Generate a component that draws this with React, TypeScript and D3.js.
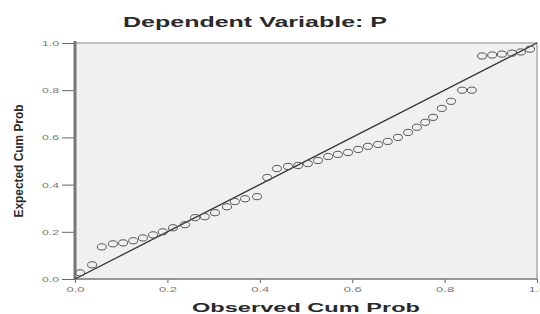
import { useEffect, useRef } from 'react';
import * as d3 from 'd3';

// observed cumulative probability (x)
const observed = [
  0.011, 0.037, 0.058, 0.082, 0.104, 0.126, 0.147, 0.169, 0.19, 0.212,
  0.238, 0.26, 0.281, 0.303, 0.329, 0.346, 0.368, 0.394, 0.416, 0.437,
  0.461, 0.483, 0.504, 0.526, 0.548, 0.569, 0.591, 0.613, 0.634, 0.656,
  0.677, 0.699, 0.721, 0.74, 0.758, 0.775, 0.794, 0.814, 0.838, 0.859,
  0.881, 0.903, 0.924, 0.946, 0.965, 0.985,
];

// expected cumulative probability (y)
const expected = [
  0.026, 0.06, 0.136, 0.149, 0.153, 0.162, 0.174, 0.187, 0.2, 0.217,
  0.23, 0.26, 0.264, 0.281, 0.306, 0.328, 0.34, 0.349, 0.43, 0.468,
  0.477, 0.481, 0.489, 0.502, 0.519, 0.528, 0.536, 0.549, 0.562, 0.57,
  0.583, 0.6, 0.621, 0.643, 0.664, 0.685, 0.723, 0.753, 0.8, 0.8,
  0.945, 0.949, 0.953, 0.957, 0.962, 0.974,
];

const tickValues = [0, 0.2, 0.4, 0.6, 0.8, 1.0];

const FONT = 'Arial, "Liberation Sans", sans-serif';

export default function App() {
  const svgRef = useRef<SVGSVGElement>(null);

  useEffect(() => {
    if (!svgRef.current) return;
    const svg = d3.select(svgRef.current);
    svg.selectAll('*').remove();

    const width = 540;
    const height = 314;
    const margin = { top: 43, right: 3, bottom: 35, left: 75 };
    const innerWidth = width - margin.left - margin.right;
    const innerHeight = height - margin.top - margin.bottom;

    const x = d3.scaleLinear().domain([0, 1]).range([0, innerWidth]);
    const y = d3.scaleLinear().domain([0, 1]).range([innerHeight, 0]);

    svg.append('rect').attr('width', width).attr('height', height).attr('fill', '#fff');

    // Title (the picture is stretched sideways, so the text is too)
    svg
      .append('text')
      .attr('x', 255)
      .attr('y', 27)
      .attr('text-anchor', 'middle')
      .attr('textLength', 264)
      .attr('lengthAdjust', 'spacingAndGlyphs')
      .style('font-family', FONT)
      .style('font-weight', 'bold')
      .style('font-size', '14px')
      .attr('fill', '#2a2a2a')
      .text('Dependent Variable: P');

    const g = svg.append('g').attr('transform', `translate(${margin.left},${margin.top})`);

    // Plot background + frame
    g.append('rect')
      .attr('width', innerWidth)
      .attr('height', innerHeight)
      .attr('fill', '#f0f0f0')
      .attr('stroke', '#aaa')
      .attr('stroke-width', 1.5);

    // Y axis
    const yAxis = g
      .append('g')
      .call(d3.axisLeft(y).tickValues(tickValues).tickFormat(d3.format('.1f')).tickSize(13).tickPadding(3));
    yAxis.select('.domain').remove();
    yAxis.selectAll('line').attr('stroke', '#666');
    yAxis
      .selectAll('text')
      .attr('fill', '#777')
      .attr('textLength', 17)
      .attr('lengthAdjust', 'spacingAndGlyphs')
      .style('font-family', FONT)
      .style('font-size', '8px');

    // X axis
    const xAxis = g
      .append('g')
      .attr('transform', `translate(0,${innerHeight})`)
      .call(d3.axisBottom(x).tickValues(tickValues).tickFormat(d3.format('.1f')).tickSize(4).tickPadding(3));
    xAxis.select('.domain').remove();
    xAxis.selectAll('line').attr('stroke', '#666');
    xAxis
      .selectAll('text')
      .attr('fill', '#777')
      .attr('textLength', 18)
      .attr('lengthAdjust', 'spacingAndGlyphs')
      .style('font-family', FONT)
      .style('font-size', '8px');

    // thick left axis line
    g.append('line')
      .attr('x1', 0)
      .attr('x2', 0)
      .attr('y1', -2)
      .attr('y2', innerHeight)
      .attr('stroke', '#777')
      .attr('stroke-width', 3);

    // bottom axis line
    g.append('line')
      .attr('x1', 0)
      .attr('x2', innerWidth)
      .attr('y1', innerHeight)
      .attr('y2', innerHeight)
      .attr('stroke', '#888')
      .attr('stroke-width', 1.5);

    // Reference diagonal
    g.append('line')
      .attr('x1', x(0))
      .attr('y1', y(0))
      .attr('x2', x(1))
      .attr('y2', y(1))
      .attr('stroke', '#333')
      .attr('stroke-width', 1.3);

    // Points
    g.selectAll('.pt')
      .data(observed.map((o, i) => [o, expected[i]]))
      .enter()
      .append('ellipse')
      .attr('class', 'pt')
      .attr('cx', (d) => x(d[0]))
      .attr('cy', (d) => y(d[1]))
      .attr('rx', 4.5)
      .attr('ry', 3.1)
      .attr('fill', 'none')
      .attr('stroke', '#555')
      .attr('stroke-width', 1);

    // Axis titles
    svg
      .append('text')
      .attr('x', 306)
      .attr('y', 312)
      .attr('text-anchor', 'middle')
      .attr('textLength', 228)
      .attr('lengthAdjust', 'spacingAndGlyphs')
      .style('font-family', FONT)
      .style('font-weight', 'bold')
      .style('font-size', '13px')
      .attr('fill', '#2a2a2a')
      .text('Observed Cum Prob');

    svg
      .append('text')
      .attr('transform', `translate(23,161) rotate(-90)`)
      .attr('text-anchor', 'middle')
      .attr('textLength', 113)
      .attr('lengthAdjust', 'spacingAndGlyphs')
      .style('font-family', FONT)
      .style('font-weight', 'bold')
      .style('font-size', '13px')
      .attr('fill', '#2a2a2a')
      .text('Expected Cum Prob');
  }, []);

  return (
    <svg
      ref={svgRef}
      width={540}
      height={314}
      style={{ position: 'absolute', left: 0, top: 0, display: 'block' }}
    />
  );
}
